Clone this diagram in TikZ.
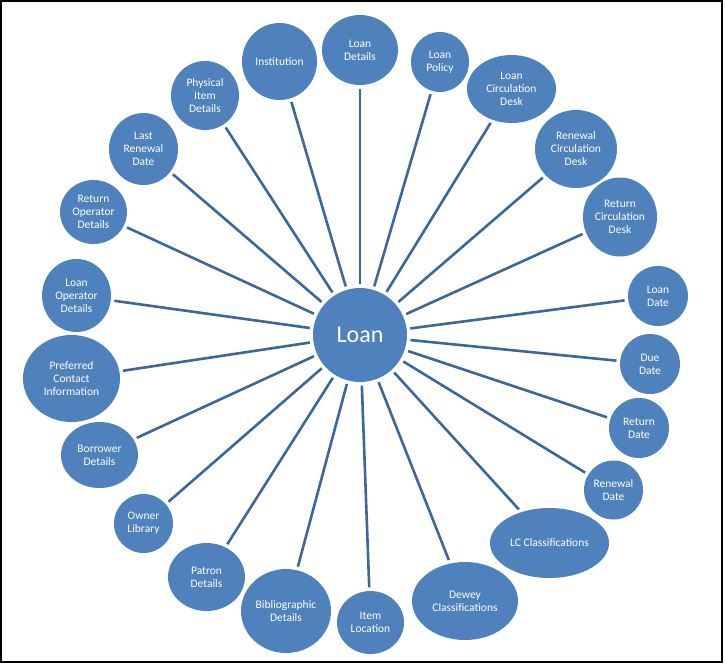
\documentclass[tikz,border=0pt]{standalone}
\usepackage{fontspec}
\setmainfont{Carlito}
\usetikzlibrary{shapes.geometric}
\definecolor{nodeblue}{HTML}{4F81BD}
\definecolor{lineblue}{HTML}{3E6699}
\begin{document}
\begin{tikzpicture}[x=1pt,y=-1pt,
  bub/.style={ellipse, fill=nodeblue, text=white, inner sep=0pt, align=center,
    font=\fontsize{11.5}{13}\selectfont},
  sz/.style 2 args={minimum width=#1pt, minimum height=#2pt},
  spoke/.style={draw=lineblue, line width=2.6pt, shorten <=3.5pt, shorten >=3.5pt}]
\useasboundingbox (0,0) rectangle (725,665);
\draw[line width=2pt] (1,1) rectangle (722,662);

\node[bub, sz={94}{94}, font=\fontsize{24}{28}\selectfont] (loan) at (360,335) {Loan};

\node[bub, sz={76}{70}] (ld) at (360,50) {Loan\\Details};
\node[bub, sz={58}{60}] (lp) at (440,62) {Loan\\Policy};
\node[bub, sz={89}{68}] (lcd) at (511.5,89) {Loan\\Circulation\\Desk};
\node[bub, sz={82}{78}] (rcd) at (576,149) {Renewal\\Circulation\\Desk};
\node[bub, sz={74}{79}] (retcd) at (620,217) {Return\\Circulation\\Desk};
\node[bub, sz={60}{60}] (ldate) at (658,296) {Loan\\Date};
\node[bub, sz={60}{60}] (due) at (650,364) {Due\\Date};
\node[bub, sz={60}{60}] (retd) at (639,428) {Return\\Date};
\node[bub, sz={59}{59}] (rend) at (613.5,490) {Renewal\\Date};
\node[bub, sz={119}{70}] (lc) at (549.5,543) {LC Classifications};
\node[bub, sz={106}{78}] (dewey) at (465,601) {Dewey\\Classifications};
\node[bub, sz={67}{63}] (item) at (370.5,622.5) {Item\\Location};
\node[bub, sz={90}{84}] (bib) at (286,611) {Bibliographic\\Details};
\node[bub, sz={77}{68}] (patron) at (206.5,577) {Patron\\Details};
\node[bub, sz={59}{59}] (owner) at (143.5,523.5) {Owner\\Library};
\node[bub, sz={77}{66}] (borrower) at (99.5,455) {Borrower\\Details};
\node[bub, sz={97}{87}] (pref) at (71.5,378.5) {Preferred\\Contact\\Information};
\node[bub, sz={69}{73}] (loanop) at (76.5,295.5) {Loan\\Operator\\Details};
\node[bub, sz={67}{64}] (retop) at (93.5,212) {Return\\Operator\\Details};
\node[bub, sz={69}{72}] (lastren) at (143.5,149) {Last\\Renewal\\Date};
\node[bub, sz={68}{69}] (phys) at (205,95.5) {Physical\\Item\\Details};
\node[bub, sz={75}{77}] (inst) at (279.5,61.5) {Institution};

\foreach \n in {ld,lp,lcd,rcd,retcd,ldate,due,retd,rend,lc,dewey,item,bib,patron,owner,borrower,pref,loanop,retop,lastren,phys,inst}
  \draw[spoke] (\n) -- (loan);
\end{tikzpicture}
\end{document}
